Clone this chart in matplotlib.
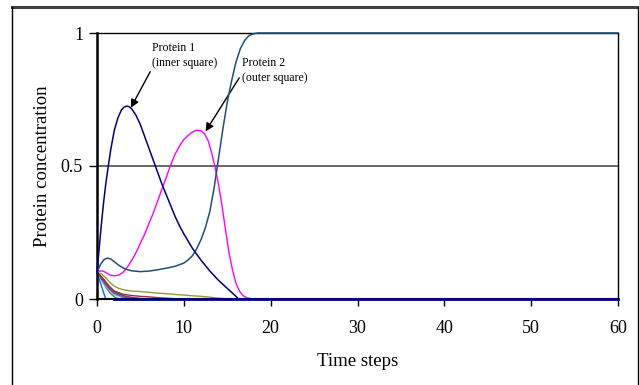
import matplotlib
matplotlib.use("Agg")
import matplotlib.pyplot as plt
from matplotlib.lines import Line2D

plt.rcParams['font.family'] = ['Liberation Serif', 'DejaVu Serif']

# Protein 1 (inner square)
t_p1 = [0, 0.25, 0.5, 0.75, 1.0, 1.3, 1.6, 2.0, 2.4, 2.8, 3.1, 3.4, 3.7, 4.0, 4.5, 5.0,
        5.5, 6.0, 6.5, 7.0, 7.5, 8.0, 8.5, 9.0, 9.5, 10.0, 11.0, 12.0, 13.0, 14.0, 15.0,
        15.5, 16.0, 16.3, 60]
v_p1 = [0.10, 0.19, 0.28, 0.36, 0.43, 0.50, 0.565, 0.635, 0.68, 0.71, 0.721, 0.725, 0.723,
        0.715, 0.69, 0.655, 0.61, 0.565, 0.52, 0.475, 0.43, 0.39, 0.35, 0.31, 0.275, 0.245,
        0.19, 0.145, 0.105, 0.07, 0.04, 0.025, 0.01, 0.0, 0.0]

# Protein 2 (outer square)
t_p2 = [0, 0.3, 0.6, 1.0, 1.5, 2.0, 2.5, 3.0, 3.5, 4.0, 4.5, 5.0, 5.5, 6.0, 6.5, 7.0,
        7.5, 8.0, 8.5, 9.0, 9.5, 10.0, 10.5, 11.0, 11.5, 12.0, 12.4, 12.8, 13.2, 13.6,
        14.0, 14.4, 14.8, 15.2, 15.6, 16.0, 16.4, 16.8, 17.3, 18.0, 60]
v_p2 = [0.10, 0.105, 0.106, 0.10, 0.09, 0.087, 0.09, 0.10, 0.12, 0.145, 0.175, 0.21, 0.245,
        0.285, 0.325, 0.37, 0.415, 0.46, 0.505, 0.545, 0.575, 0.60, 0.615, 0.628, 0.635,
        0.632, 0.62, 0.595, 0.55, 0.495, 0.43, 0.35, 0.26, 0.175, 0.11, 0.06, 0.03, 0.013,
        0.004, 0.0, 0.0]

# protein switching on to 1
t_p3 = [0, 0.4, 0.8, 1.2, 1.6, 2.0, 2.5, 3.0, 3.5, 4.0, 5.0, 6.0, 7.0, 8.0, 9.0, 10.0,
        10.5, 11.0, 11.5, 12.0, 12.5, 13.0, 13.5, 14.0, 14.5, 15.0, 15.5, 16.0, 16.5,
        17.0, 17.5, 18.0, 18.5, 60]
v_p3 = [0.10, 0.13, 0.148, 0.154, 0.15, 0.14, 0.127, 0.117, 0.11, 0.106, 0.103, 0.105,
        0.11, 0.116, 0.123, 0.135, 0.147, 0.163, 0.19, 0.225, 0.27, 0.33, 0.42, 0.53,
        0.64, 0.74, 0.82, 0.89, 0.94, 0.972, 0.99, 0.997, 1.0, 1.0]

# remaining proteins decaying to zero
small_curves = [
    ('#0066FF', [0, 0.5, 1.0], [0.10, 0.05, 0.0]),
    ('#339933', [0, 0.5, 1.0, 1.5, 2.0, 2.5], [0.10, 0.075, 0.045, 0.022, 0.008, 0.0]),
    ('#9999FF', [0, 0.5, 1.0, 1.5, 2.0, 3.0, 4.0], [0.10, 0.07, 0.047, 0.03, 0.016, 0.005, 0.0]),
    ('#333399', [0, 0.5, 1.0, 1.5, 2.0, 3.0, 4.0, 5.0], [0.10, 0.078, 0.055, 0.036, 0.022, 0.009, 0.003, 0.0]),
    ('#339999', [0, 0.5, 1.0, 1.5, 2.0, 3.0, 4.0, 5.0], [0.10, 0.082, 0.058, 0.038, 0.024, 0.010, 0.004, 0.0]),
    ('#993366', [0, 0.5, 1.0, 1.5, 2.0, 3.0, 4.0, 5.0, 6.0], [0.10, 0.08, 0.06, 0.04, 0.027, 0.013, 0.006, 0.002, 0.0]),
    ('#993333', [0, 0.5, 1.0, 1.5, 2.0, 3.0, 4.0, 5.0, 6.0, 7.0, 8.0, 9.0, 10.0],
     [0.10, 0.085, 0.065, 0.045, 0.03, 0.018, 0.013, 0.01, 0.008, 0.005, 0.003, 0.001, 0.0]),
    ('#999933', [0, 0.5, 1.0, 1.5, 2.0, 2.5, 3.0, 4.0, 5.0, 6.0, 7.0, 8.0, 9.0, 10, 11, 12, 13, 14, 15, 16],
     [0.10, 0.095, 0.08, 0.062, 0.048, 0.04, 0.035, 0.03, 0.028, 0.025, 0.022, 0.02, 0.017,
      0.015, 0.012, 0.01, 0.007, 0.003, 0.001, 0.0]),
]

fig = plt.figure(figsize=(6.39, 3.85), dpi=100)
ax = fig.add_axes([97 / 639, 1 - 299 / 385, 521 / 639, 266 / 385])

# outer frame (open at bottom)
fig.add_artist(Line2D([11.5 / 639, 637.5 / 639], [1 - 6.5 / 385, 1 - 6.5 / 385], color='#404040', lw=2.2))
fig.add_artist(Line2D([11.5 / 639, 11.5 / 639], [0, 1 - 6.5 / 385], color='black', lw=1))
fig.add_artist(Line2D([637.5 / 639, 637.5 / 639], [0, 1 - 6.5 / 385], color='black', lw=1))

ax.axhline(0.5, color='#5a5a5a', lw=1.3, zorder=1)

for col, t, v in small_curves:
    ax.plot(t, v, color=col, lw=1, clip_on=False, zorder=2)
ax.plot(t_p2, v_p2, color='#FF00FF', lw=1, clip_on=False, zorder=3)
ax.plot(t_p3, v_p3, color='#1F4E79', lw=1.1, clip_on=False, zorder=4)
ax.plot(t_p1, v_p1, color='#000080', lw=1.1, clip_on=False, zorder=5)
ax.plot([2, 60], [0, 0], color='#000080', lw=2, clip_on=False, zorder=5)

ax.set_xlim(0, 60)
ax.set_ylim(0, 1)
ax.set_xticks(range(0, 61, 10))
ax.set_yticks([0, 0.5, 1])
ax.set_yticklabels(['0', '0.5', '1'])
ax.tick_params(axis='x', direction='out', length=5, width=1, labelsize=13, pad=10)
ax.tick_params(axis='y', direction='out', length=6, width=1, labelsize=13, pad=4)
for s in ax.spines.values():
    s.set_linewidth(1)
ax.spines['left'].set_linewidth(1.8)
ax.spines['bottom'].set_linewidth(1.5)

ax.set_xlabel('Time steps', fontsize=13.5, labelpad=12)
ax.set_ylabel('Protein concentration', fontsize=13.5, labelpad=7)

arrow = dict(arrowstyle='-|>', color='black', lw=1, mutation_scale=12, shrinkA=0, shrinkB=0)
ax.annotate('Protein 1\n(inner square)', xy=(3.9, 0.719), xytext=(6.3, 0.865),
            fontsize=8.5, ha='left', va='bottom', linespacing=1.3,
            arrowprops=dict(arrow, relpos=(0.0, 0.0)))
ax.annotate('Protein 2\n(outer square)', xy=(12.5, 0.63), xytext=(16.7, 0.81),
            fontsize=8.5, ha='left', va='bottom', linespacing=1.3,
            arrowprops=dict(arrow, relpos=(-0.02, 0.3)))

fig.savefig('out.png', dpi=100)
